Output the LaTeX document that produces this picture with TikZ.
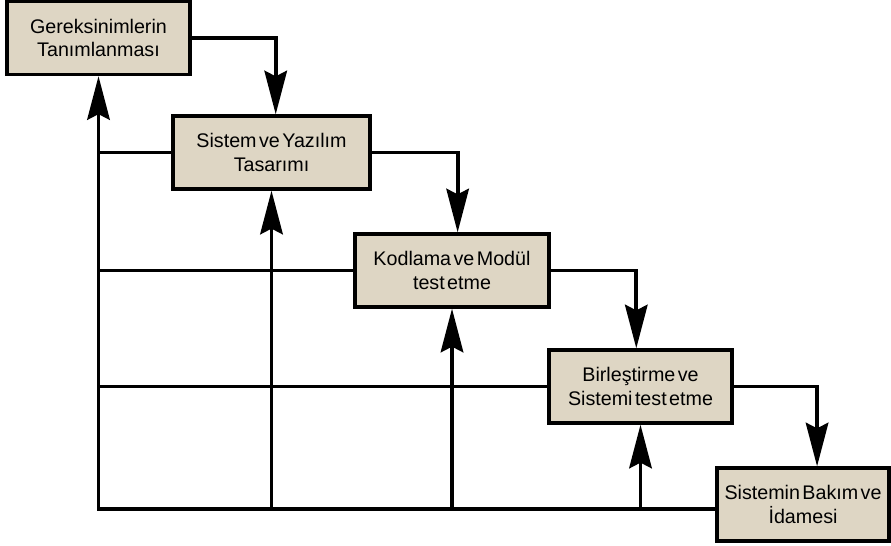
\documentclass[tikz,border=0pt]{standalone}
\usepackage{fontspec}
\setmainfont{Liberation Sans}[WordSpace=0.45]
\usetikzlibrary{arrows.meta}
\definecolor{kutu}{RGB}{222,214,196}
\begin{document}
\begin{tikzpicture}[x=0.025cm, y=-0.025cm,
  >={Stealth[length=31pt, width=16pt, inset=4pt]},
  asama/.style={draw, line width=2.5pt, fill=kutu, minimum height=1.82cm,
    align=center, font=\fontsize{14}{17}\selectfont},
  akis/.style={line width=2.7pt}]
\useasboundingbox (0,0) rectangle (891,545);
% Aşamalar
\node[asama, minimum width=4.57cm] (g1) at (98.5,38) {Gereksinimlerin\\Tanımlanması};
\node[asama, minimum width=4.92cm] (g2) at (271.5,152.5) {Sistem ve Yazılım\\Tasarımı};
\node[asama, minimum width=4.85cm] (g3) at (452,270.5) {Kodlama ve Modül\\test etme};
\node[asama, minimum width=4.57cm] (g4) at (640.5,386.5) {Birleştirme ve\\Sistemi test etme};
\node[asama, minimum width=4.30cm] (g5) at (803,504.5) {Sistemin Bakım ve\\İdamesi};
\coordinate (alt) at (0,509);

% Ileri akis
\draw[akis, ->] (g1.east) -| ([xshift=3]g2.north);
\draw[akis, ->] (g2.east) -| ([xshift=4]g3.north);
\draw[akis, ->] (g3.east) -| ([xshift=-3]g4.north);
\draw[akis, ->] (g4.east) -| ([xshift=10]g5.north);

% Geri besleme
\draw[akis, ->] (alt -| g5.west) -- (g1.south |- alt) -- (g1.south);
\draw[akis, ->] (g2.south |- alt) -- (g2.south);
\draw[akis, ->] (g3.south |- alt) -- (g3.south);
\draw[akis, ->] (g4.south |- alt) -- (g4.south);
\draw[akis] (g1.south |- g2.west) -- (g2.west);
\draw[akis] (g1.south |- g3.west) -- (g3.west);
\draw[akis] (g1.south |- g4.west) -- (g4.west);
\end{tikzpicture}
\end{document}
